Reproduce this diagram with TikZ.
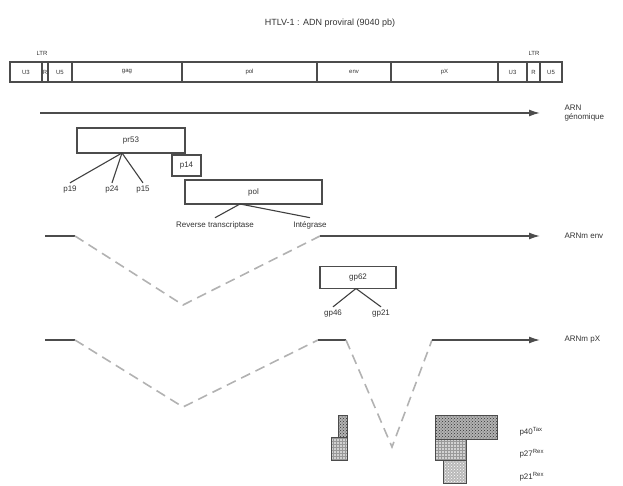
\documentclass[tikz,border=0pt]{standalone}
\usepackage{fontspec}
\setmainfont{Liberation Sans}
\usetikzlibrary{arrows.meta, patterns}

\begin{document}
\begin{tikzpicture}[
    x=1pt, y=-1pt,
    every node/.style={font=\fontsize{8}{9}\selectfont, text=black!80},
    seg/.style={rectangle, draw=black!70, line width=1.2pt, minimum height=20pt, inner sep=0pt},
    protbox/.style={rectangle, draw=black!70, line width=1.2pt, inner sep=0pt},
    cut/.style={black!75, line width=1.1pt},
    exon/.style={black!70, line width=1.4pt},
    intron/.style={gray!60, line width=1.6pt, dash pattern=on 10pt off 6pt},
    arrow/.style={exon, -{Latex[length=11pt, width=7pt]}},
    rowlabel/.style={anchor=west, align=left},
    taxfill/.style={draw=black!70, preaction={fill=gray!60}, pattern=crosshatch dots, pattern color=black!80},
    rexfill/.style={draw=black!70, preaction={fill=gray!35}, pattern=grid, pattern color=gray!80},
    rexbfill/.style={draw=black!70, preaction={fill=gray!55}, pattern=crosshatch dots, pattern color=white}
]
\useasboundingbox (0,0) rectangle (623,486);

% Title
\node (title) at (330,23) {\fontsize{9}{10}\selectfont HTLV-1 : ADN proviral (9040 pb)};

% Proviral genome
\foreach \a/\b/\t [count=\i] in {10/42/U3, 42/48/R, 48/72/U5, 72/182/gag, 182/317/pol,
    317/391/env, 391/498/pX, 498/527/U3, 527/540/R, 540/562/U5}
    \node[seg, minimum width={(\b-\a)*1pt}] (seg\i) at ({(\a+\b)/2},72) {\fontsize{6}{7}\selectfont\t};
\node (ltrl) at (42,53) {\fontsize{6}{7}\selectfont LTR};
\node (ltrr) at (534,53) {\fontsize{6}{7}\selectfont LTR};

% Genomic RNA
\coordinate (g0) at (40,113);
\coordinate (g1) at (540,113);
\draw [arrow] (g0) -- (g1);
\node (arng) [rowlabel] at (561,113) {ARN\\génomique};

% Gag, protease, pol
\node (pr53) [protbox, minimum width=108pt, minimum height=25pt] at (131,140.5) {pr53};
\node (p14) [protbox, minimum width=29pt, minimum height=21pt] at (186.5,165.5) {p14};
\node (pol) [protbox, minimum width=137pt, minimum height=24pt] at (253.5,192) {pol};

\coordinate (gagcut) at (122,153);
\node (p19) at (70,190) {p19};
\node (p24) at (112,190) {p24};
\node (p15) at (143,190) {p15};
\draw [cut] (gagcut) -- (p19.north);
\draw [cut] (gagcut) -- (p24.north);
\draw [cut] (gagcut) -- (p15.north);

\coordinate (polcut) at (240,204);
\node (rt) at (215,225) {Reverse transcriptase};
\node (int) at (310,225) {Intégrase};
\draw [cut] (polcut) -- (rt.north);
\draw [cut] (polcut) -- (int.north);

% env mRNA
\coordinate (e0) at (45,236);
\coordinate (e1) at (75,236);
\coordinate (e2) at (183,305);
\coordinate (e3) at (320,236);
\coordinate (e4) at (540,236);
\draw [exon] (e0) -- (e1);
\draw [intron] (e1) -- (e2) -- (e3);
\draw [arrow] (e3) -- (e4);
\node (arnenv) [rowlabel] at (561,236) {ARNm env};

% Env precursor
\node (gp62) [protbox, minimum width=76pt, minimum height=22pt] at (358,277.5) {gp62};
\coordinate (envcut) at (356,288.5);
\node (gp46) at (333,314) {gp46};
\node (gp21) at (381,314) {gp21};
\draw [cut] (envcut) -- (gp46.north);
\draw [cut] (envcut) -- (gp21.north);

% pX mRNA
\coordinate (x0) at (45,340);
\coordinate (x1) at (75,340);
\coordinate (x2) at (183,407);
\coordinate (x3) at (318,340);
\coordinate (x4) at (346,340);
\coordinate (x5) at (392,447);
\coordinate (x6) at (432,340);
\coordinate (x7) at (540,340);
\draw [exon] (x0) -- (x1);
\draw [intron] (x1) -- (x2) -- (x3);
\draw [exon] (x3) -- (x4);
\draw [intron] (x4) -- (x5) -- (x6);
\draw [arrow] (x6) -- (x7);
\node (arnpx) [rowlabel] at (561,340) {ARNm pX};

% pX proteins
\path [taxfill] (338,415) rectangle (347,437);
\path [rexfill] (331,437) rectangle (347,460);
\path [taxfill] (435,415) rectangle (497,439);
\path [rexfill] (435,439) rectangle (466,460);
\path [rexbfill] (443,460) rectangle (466,483);
\node (tax) [anchor=west] at (516,432) {p40\textsuperscript{Tax}};
\node (rex27) [anchor=west] at (516,454) {p27\textsuperscript{Rex}};
\node (rex21) [anchor=west] at (516,477) {p21\textsuperscript{Rex}};

\end{tikzpicture}
\end{document}
